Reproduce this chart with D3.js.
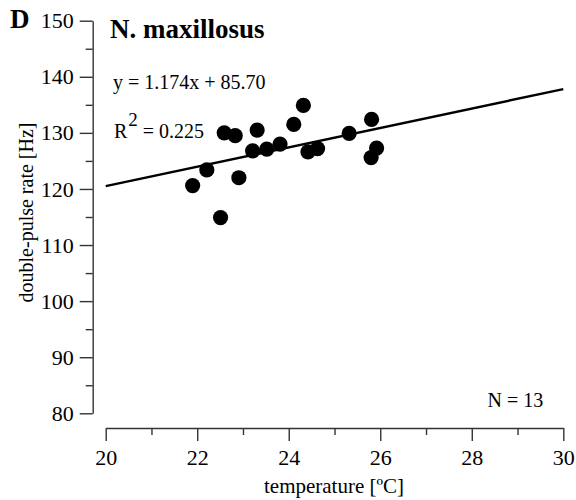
<!DOCTYPE html>
<html><head><meta charset="utf-8">
<script src="https://cdn.jsdelivr.net/npm/d3@7"></script>
<style>body{margin:0;background:#fff}svg{display:block}text{font-family:"Liberation Serif","Times New Roman",serif;fill:#000}</style>
</head><body>
<svg id="c" width="576" height="500"></svg>
<script>
const temperature = [21.90,22.21,22.51,22.59,22.83,22.91,23.21,23.31,23.52,23.81,24.11,24.32,24.42,24.63,25.32,25.81,25.92,25.80];
const pulseRate   = [120.6,123.4,114.9,130.0,129.5,122.0,126.8,130.5,127.1,128.0,131.5,134.9,126.6,127.2,129.9,132.4,127.3,125.6];
const fitX = [20, 30];
const fitY = [120.5, 137.8];
const xMajor = [20,22,24,26,28,30];
const xMinor = [21,23,25,27,29];
const yMajor = [80,90,100,110,120,130,140,150];
const yMinor = [85,95,105,115,125,135,145];

const svg = d3.select("#c");
const x = d3.scaleLinear().domain([20,30]).range([105.7,563.3]);
const y = d3.scaleLinear().domain([80,150]).range([413.3,20.7]);
const axisX = 92.7, axisY = 428;

// Y axis
const gy = svg.append("g").attr("transform",`translate(${axisX},0)`);
gy.call(d3.axisLeft(y).tickValues(yMajor).tickSize(13).tickSizeOuter(0).tickPadding(6).tickFormat(d3.format("d")));
const gym = svg.append("g").attr("transform",`translate(${axisX},0)`);
gym.call(d3.axisLeft(y).tickValues(yMinor).tickSize(7).tickSizeOuter(0).tickFormat(""));
gym.select(".domain").remove();

// X axis
const gx = svg.append("g").attr("transform",`translate(0,${axisY})`);
gx.call(d3.axisBottom(x).tickValues(xMajor).tickSize(13).tickSizeOuter(0).tickPadding(8).tickFormat(d3.format("d")));
const gxm = svg.append("g").attr("transform",`translate(0,${axisY})`);
gxm.call(d3.axisBottom(x).tickValues(xMinor).tickSize(7).tickSizeOuter(0).tickFormat(""));
gxm.select(".domain").remove();

svg.selectAll(".domain, .tick line").attr("stroke","#333").attr("stroke-width",1.4);
svg.selectAll(".tick text").attr("font-size",22).attr("font-family","Liberation Serif, serif").attr("fill","#000");

// regression line
svg.append("path")
  .datum(fitX.map((d,i)=>[d,fitY[i]]))
  .attr("d", d3.line().x(d=>x(d[0])).y(d=>y(d[1])))
  .attr("stroke","#000").attr("stroke-width",2.4).attr("fill","none");

// points
svg.append("g").selectAll("circle").data(temperature.map((t,i)=>[t,pulseRate[i]]))
  .join("circle").attr("cx",d=>x(d[0])).attr("cy",d=>y(d[1])).attr("r",7.6).attr("fill","#000");

// texts
svg.append("text").attr("x",10).attr("y",28).attr("font-size",27).attr("font-weight","bold").text("D");
svg.append("text").attr("x",110).attr("y",38.3).attr("font-size",27).attr("font-weight","bold").text("N. maxillosus");
svg.append("text").attr("x",113).attr("y",89).attr("font-size",20).text("y = 1.174x + 85.70");
const r2 = svg.append("text").attr("x",114).attr("y",138.3).attr("font-size",20);
r2.append("tspan").text("R");
r2.append("tspan").attr("dx",1).attr("dy",-12).attr("font-size",19).text("2");
r2.append("tspan").attr("dy",12).text(" = 0.225");
svg.append("text").attr("x",543.3).attr("y",406.7).attr("font-size",20).attr("text-anchor","end").text("N = 13");
svg.append("text").attr("x",334).attr("y",493).attr("font-size",21).attr("text-anchor","middle").text("temperature [ºC]");
svg.append("text").attr("transform","translate(33,212.5) rotate(-90)").attr("font-size",20).attr("text-anchor","middle").text("double-pulse rate [Hz]");
</script>
</body></html>
